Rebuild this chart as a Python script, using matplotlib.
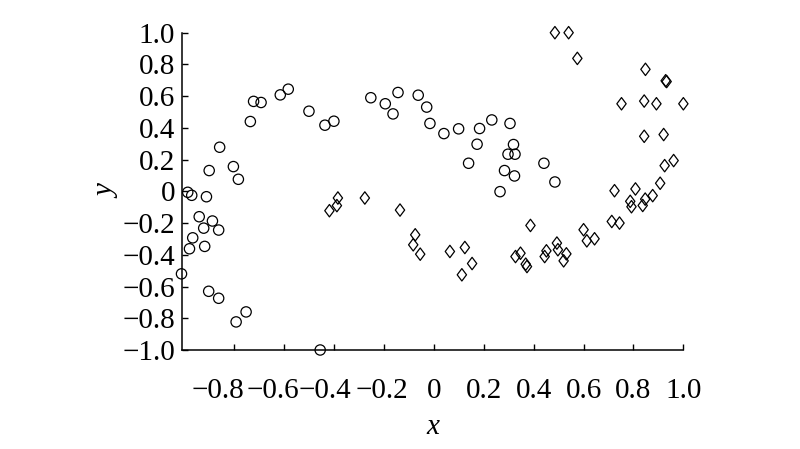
import matplotlib
matplotlib.use("Agg")
import matplotlib.pyplot as plt
import matplotlib.transforms as mtransforms
from matplotlib.path import Path


# circles (first group)
circle_x = [-0.736, -0.859, -0.901, -0.804, -0.784, -0.987, -0.971, -0.912,
            -0.941, -0.888, -0.923, -0.863, -0.967, -0.980, -0.919, -1.012,
            -0.903, -0.863, -0.753, -0.793, -0.456, -0.723, -0.693, -0.616,
            -0.584, -0.501, -0.437, -0.401, -0.253, -0.195, -0.164, -0.144,
            -0.063, -0.029, -0.016, 0.040, 0.099, 0.183, 0.232, 0.305,
            0.173, 0.319, 0.297, 0.325, 0.139, 0.441, 0.283, 0.323,
            0.485, 0.265]
circle_y = [0.440, 0.278, 0.131, 0.156, 0.076, -0.006, -0.025, -0.034,
            -0.160, -0.187, -0.232, -0.244, -0.293, -0.362, -0.347, -0.520,
            -0.630, -0.674, -0.760, -0.823, -1.000, 0.567, 0.560, 0.608,
            0.644, 0.505, 0.417, 0.442, 0.590, 0.552, 0.488, 0.623,
            0.606, 0.531, 0.428, 0.364, 0.394, 0.396, 0.450, 0.428,
            0.297, 0.295, 0.234, 0.234, 0.177, 0.177, 0.131, 0.097,
            0.059, -0.002]

# diamonds (second group)
diamond_x = [-0.385, -0.389, -0.419, -0.277, -0.136, -0.075, -0.083, -0.055,
             0.064, 0.124, 0.153, 0.112, 0.387, 0.327, 0.347, 0.368,
             0.373, 0.451, 0.444, 0.493, 0.497, 0.531, 0.520, 0.600,
             0.613, 0.644, 0.713, 0.744, 0.792, 0.837, 0.485, 0.540,
             0.575, 0.848, 0.929, 0.933, 0.752, 0.843, 0.892, 1.000,
             0.843, 0.921, 0.961, 0.925, 0.907, 0.808, 0.724, 0.877,
             0.847, 0.787]
diamond_y = [-0.042, -0.090, -0.122, -0.042, -0.118, -0.274, -0.337, -0.396,
             -0.379, -0.354, -0.455, -0.526, -0.215, -0.411, -0.390, -0.459,
             -0.474, -0.375, -0.411, -0.326, -0.368, -0.394, -0.438, -0.242,
             -0.312, -0.299, -0.190, -0.200, -0.097, -0.089, 1.000, 1.000,
             0.838, 0.769, 0.697, 0.692, 0.552, 0.569, 0.552, 0.552,
             0.347, 0.358, 0.194, 0.162, 0.051, 0.015, 0.004, -0.027,
             -0.049, -0.063]

x_ticks = [-0.8, -0.6, -0.4, -0.2, 0, 0.2, 0.4, 0.6, 0.8, 1.0]
x_tick_labels = ["\u22120.8", "\u22120.6", "\u22120.4", "\u22120.2", "0",
                 "0.2", "0.4", "0.6", "0.8", "1.0"]
y_ticks = [-1.0, -0.8, -0.6, -0.4, -0.2, 0, 0.2, 0.4, 0.6, 0.8, 1.0]
y_tick_labels = ["\u22121.0", "\u22120.8", "\u22120.6", "\u22120.4", "\u22120.2",
                 "0", "0.2", "0.4", "0.6", "0.8", "1.0"]

# the negative x labels sit a bit left of their ticks in the original (points)
x_label_shift = [-11.5, -8.0, -6.3, -1.5, 0, 0, 0, 0, 0, 0]


def main():
    plt.rcParams["font.family"] = ["Liberation Serif", "DejaVu Serif"]

    diamond = Path([(0, 1), (0.75, 0), (0, -1), (-0.75, 0), (0, 1)],
                   [Path.MOVETO, Path.LINETO, Path.LINETO, Path.LINETO,
                    Path.CLOSEPOLY])

    fig = plt.figure(figsize=(8.0, 4.49), dpi=100)
    ax = fig.add_axes([0.2275, 0.2205, 0.6267, 0.7067])

    ax.scatter(circle_x, circle_y, s=55, marker="o", facecolors="none",
               edgecolors="black", linewidths=0.9, clip_on=False, zorder=3)
    ax.scatter(diamond_x, diamond_y, s=80, marker=diamond, facecolors="none",
               edgecolors="black", linewidths=0.9, clip_on=False, zorder=3)

    ax.set_xlim(-1.01, 1.0)
    ax.set_ylim(-1.0, 1.0)
    ax.set_xticks(x_ticks)
    ax.set_yticks(y_ticks)
    ax.set_yticklabels(y_tick_labels)

    for side in ("top", "right"):
        ax.spines[side].set_visible(False)
    for side in ("left", "bottom"):
        ax.spines[side].set_linewidth(1.1)

    ax.tick_params(axis="both", direction="in", length=4.5, width=1.0,
                   labelsize=21)
    ax.tick_params(axis="x", labelbottom=False)
    ax.tick_params(axis="y", pad=5)

    # x tick labels drawn by hand so they can be nudged like the original
    base = ax.get_xaxis_transform()
    for xv, text, dx in zip(x_ticks, x_tick_labels, x_label_shift):
        offset = mtransforms.ScaledTranslation(dx / 72, -20 / 72, fig.dpi_scale_trans)
        ax.text(xv, 0, text, transform=base + offset, ha="center", va="top",
                fontsize=21)

    ax.set_xlabel("x", fontsize=21, fontstyle="italic")
    ax.xaxis.set_label_coords(0.5, -0.203)
    ax.set_ylabel("y", fontsize=21, fontstyle="italic", labelpad=1)

    fig.savefig("out.png", dpi=100)
    plt.close(fig)


if __name__ == "__main__":
    main()
